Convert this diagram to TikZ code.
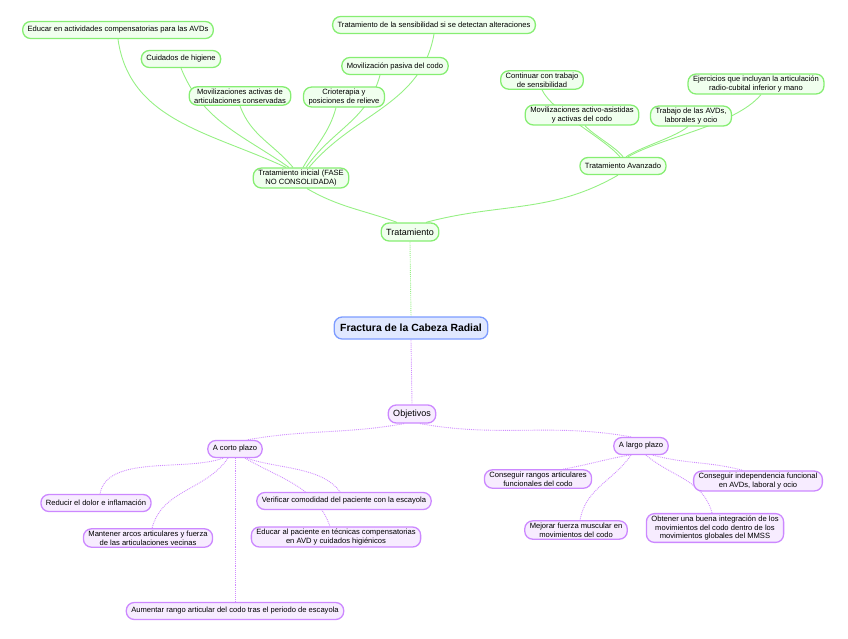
\documentclass[tikz,border=0pt]{standalone}
\usepackage{fontspec}
\setmainfont{Liberation Sans}
\usetikzlibrary{backgrounds}
\definecolor{gborder}{HTML}{86EE72}
\definecolor{gfill}{HTML}{F0FFEE}
\definecolor{glink}{HTML}{96F084}
\definecolor{pborder}{HTML}{CC88FF}
\definecolor{pfill}{HTML}{F7ECFF}
\definecolor{plink}{HTML}{D08CFF}
\definecolor{bborder}{HTML}{7D9CFF}
\definecolor{bfill}{HTML}{E0E8FF}

\begin{document}
\begin{tikzpicture}[
        x=1pt, y=1pt,
        box/.style={
            draw,
            rounded corners=8pt,
            line width=1.3pt,
            align=center,
            inner xsep=5pt,
            inner ysep=2pt,
            minimum height=17pt,
            font=\fontsize{7.6}{8.8}\selectfont
        },
        gbox/.style={box, draw=gborder, fill=gfill},
        pbox/.style={box, draw=pborder, fill=pfill},
        big/.style={font=\fontsize{9}{10}\selectfont, minimum height=18pt},
        rootbox/.style={
            box,
            draw=bborder,
            fill=bfill,
            minimum height=22pt,
            inner xsep=6pt,
            font=\fontsize{10.4}{12}\selectfont\bfseries
        },
        glinkline/.style={draw=glink, line width=0.9pt},
        plinkline/.style={draw=plink, line width=0.9pt, densely dotted}
    ]
    \useasboundingbox (0,0) rectangle (848,-638);

    \node[rootbox] (root) at (411,-328) {Fractura de la Cabeza Radial};

    \node[gbox, big] (trat) at (410,-232) {Tratamiento};
    \node[gbox] (ini) at (301,-178) {Tratamiento inicial (FASE\\NO CONSOLIDADA)};
    \node[gbox] (avz) at (623,-166) {Tratamiento Avanzado};

    \node[gbox] (educ) at (118,-30) {Educar en actividades compensatorias para las AVDs};
    \node[gbox] (hig) at (181,-59) {Cuidados de higiene};
    \node[gbox] (mact) at (240,-96) {Movilizaciones activas de\\articulaciones conservadas};
    \node[gbox] (sens) at (434,-25) {Tratamiento de la sensibilidad si se detectan alteraciones};
    \node[gbox] (mpas) at (395,-66) {Movilización pasiva del codo};
    \node[gbox] (crio) at (344,-97) {Crioterapia y\\posiciones de relieve};

    \node[gbox] (cont) at (542,-80) {Continuar con trabajo\\de sensibilidad};
    \node[gbox] (masis) at (582,-115) {Movilizaciones activo-asistidas\\y activas del codo};
    \node[gbox] (trab) at (691,-116) {Trabajo de las AVDs,\\laborales y ocio};
    \node[gbox] (ejer) at (756,-84) {Ejercicios que incluyan la articulación\\radio-cubital inferior y mano};

    \node[pbox, big] (obj) at (412,-414) {Objetivos};
    \node[pbox] (corto) at (235,-449) {A corto plazo};
    \node[pbox] (largo) at (641,-446) {A largo plazo};

    \node[pbox] (dolor) at (96,-503) {Reducir el dolor e inflamación};
    \node[pbox] (mant) at (148,-538) {Mantener arcos articulares y fuerza\\de las articulaciones vecinas};
    \node[pbox] (verif) at (344,-501) {Verificar comodidad del paciente con la escayola};
    \node[pbox] (edpac) at (336,-537) {Educar al paciente en técnicas compensatorias\\en AVD y cuidados higiénicos};
    \node[pbox] (aum) at (235,-611) {Aumentar rango articular del codo tras el periodo de escayola};

    \node[pbox] (rang) at (538,-479) {Conseguir rangos articulares\\funcionales del codo};
    \node[pbox] (fuer) at (576,-530) {Mejorar fuerza muscular en\\movimientos del codo};
    \node[pbox] (indep) at (758,-481) {Conseguir independencia funcional\\en AVDs, laboral y ocio};
    \node[pbox] (integ) at (715,-528) {Obtener una buena integración de los\\movimientos del codo dentro de los\\movimientos globales del MMSS};

    \begin{scope}[on background layer]
        \draw[glinkline, densely dotted] (trat.south) -- (root.north);
        \draw[glinkline] ([xshift=6pt]ini.south) to[out=-30, in=160] ([xshift=-13pt]trat.north);
        \draw[glinkline] ([xshift=-5pt]avz.south) to[out=-150, in=15] ([xshift=16pt]trat.north);

        \draw[glinkline] (educ.south) to[out=-82, in=155] ([xshift=-15pt]ini.north);
        \draw[glinkline] (hig.south) to[out=-68, in=145] ([xshift=-12pt]ini.north);
        \draw[glinkline] (mact.south) to[out=-70, in=130] ([xshift=-8pt]ini.north);
        \draw[glinkline] ([xshift=-8pt]crio.south) to[out=-105, in=60] ([xshift=2pt]ini.north);
        \draw[glinkline] ([xshift=-15pt]mpas.south) to[out=-105, in=55] ([xshift=5pt]ini.north);
        \draw[glinkline] (sens.south) to[out=-100, in=50] ([xshift=8pt]ini.north);

        \draw[glinkline] (cont.south) to[out=-65, in=130, looseness=0.6] ([xshift=-3pt]avz.north);
        \draw[glinkline] ([xshift=3pt]masis.south) to[out=-50, in=125, looseness=0.6] (avz.north);
        \draw[glinkline] ([xshift=-3pt]trab.south) to[out=-140, in=35, looseness=0.6] ([xshift=3pt]avz.north);
        \draw[glinkline] ([xshift=5pt]ejer.south) to[out=-130, in=30, looseness=0.7] ([xshift=5pt]avz.north);

        \draw[plinkline] (root.south) -- (obj.north);
        \draw[plinkline] ([xshift=-8pt]obj.south) to[out=190, in=10] ([xshift=12pt]corto.north);
        \draw[plinkline] ([xshift=8pt]obj.south) to[out=-10, in=170] ([xshift=-10pt]largo.north);

        \draw[plinkline] ([xshift=-12pt]corto.south) to[out=-160, in=80, looseness=0.8] ([xshift=4pt]dolor.north);
        \draw[plinkline] ([xshift=-7pt]corto.south) to[out=-125, in=75] ([xshift=4pt]mant.north);
        \draw[plinkline] (corto.south) -- (aum.north);
        \draw[plinkline] ([xshift=12pt]corto.south) to[out=-20, in=125, looseness=0.8] ([xshift=-4pt]verif.north);
        \draw[plinkline] ([xshift=10pt]corto.south) to[out=-30, in=110] ([xshift=-6pt]edpac.north);

        \draw[plinkline] ([xshift=-12pt]largo.south) to[out=-170, in=10] ([xshift=25pt]rang.north);
        \draw[plinkline] ([xshift=-10pt]largo.south) to[out=-125, in=80] ([xshift=4pt]fuer.north);
        \draw[plinkline] ([xshift=12pt]largo.south) to[out=-15, in=165] ([xshift=-15pt]indep.north);
        \draw[plinkline] ([xshift=5pt]largo.south) to[out=-40, in=105] ([xshift=-3pt]integ.north);
    \end{scope}
\end{tikzpicture}
\end{document}
